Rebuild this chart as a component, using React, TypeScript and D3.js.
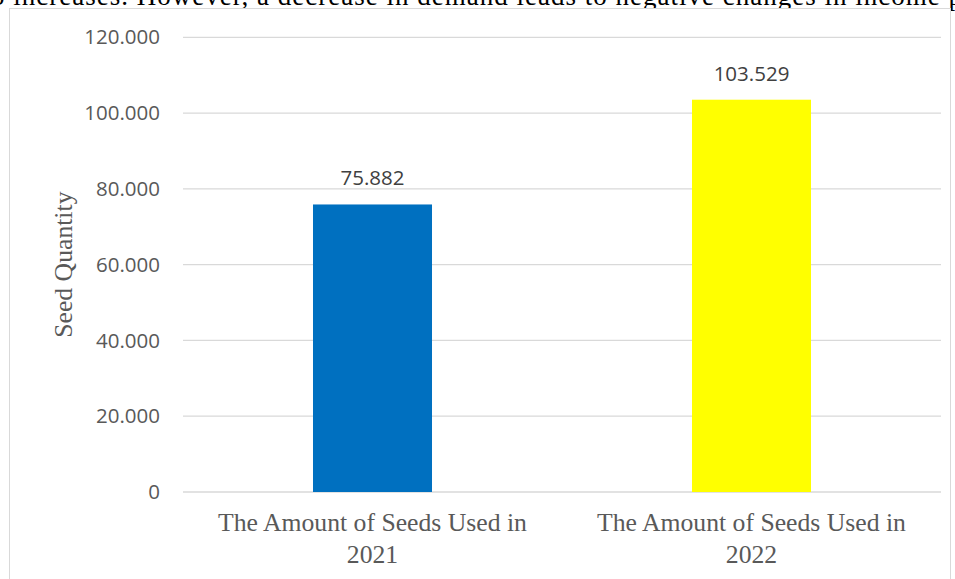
import React from "react";
import * as d3 from "d3";

const categories = ["The Amount of Seeds Used in 2021", "The Amount of Seeds Used in 2022"];
const categoryLines = [
  ["The Amount of Seeds Used in", "2021"],
  ["The Amount of Seeds Used in", "2022"],
];
const values = [75.882, 103.529];
const barColors = ["#0070C0", "#FFFF00"];
const valueLabels = ["75.882", "103.529"];
const yTicks = [0, 20, 40, 60, 80, 100, 120];
const yTickLabels = ["0", "20.000", "40.000", "60.000", "80.000", "100.000", "120.000"];
const yTitle = "Seed Quantity";
const bodyText = "o increases. However, a decrease in demand leads to negative changes in income p";

const W = 955;
const H = 579;
const plot = { left: 183, right: 941, top: 37.3, bottom: 492 };

export default function App() {
  const x = d3.scaleBand<string>().domain(categories).range([plot.left, plot.right]).paddingInner(0.686).paddingOuter(0.343);
  const y = d3.scaleLinear().domain([0, 120]).range([plot.bottom, plot.top]);
  const sans = "'Open Sans', sans-serif";
  const serif = "'Liberation Serif', 'Times New Roman', serif";
  return (
    <svg width={W} height={H} style={{ position: "absolute", left: 0, top: 0, background: "#fff" }}>
      <text x={-9} y={5} fontFamily={serif} fontSize={27} fill="#000" textLength={971} lengthAdjust="spacing">
        {bodyText}
      </text>
      <rect x={9.5} y={8.5} width={941} height={H + 10} fill="#fff" stroke="#d9d9d9" strokeWidth={1} />
      {yTicks.map((t, i) => (
        <g key={t}>
          <line x1={plot.left} x2={plot.right} y1={y(t)} y2={y(t)} stroke="#d9d9d9" strokeWidth={1.3} />
          <text x={160} y={y(t)} dy="0.35em" textAnchor="end" fontFamily={sans} fontSize={20.5} fill="#595959">
            {yTickLabels[i]}
          </text>
        </g>
      ))}
      {categories.map((c, i) => (
        <g key={c}>
          <rect x={x(c)} y={y(values[i])} width={x.bandwidth()} height={y(0) - y(values[i])} fill={barColors[i]} />
          <text x={(x(c) as number) + x.bandwidth() / 2} y={y(values[i]) - 19} textAnchor="middle" fontFamily={sans} fontSize={20.5} fill="#404040">
            {valueLabels[i]}
          </text>
          {categoryLines[i].map((ln, j) => (
            <text key={j} x={(x(c) as number) + x.bandwidth() / 2} y={531 + j * 32} textAnchor="middle" fontFamily={serif} fontSize={25.7} fill="#595959">
              {ln}
            </text>
          ))}
        </g>
      ))}
      <text transform={`translate(72,${(plot.top + plot.bottom) / 2}) rotate(-90)`} textAnchor="middle" fontFamily={serif} fontSize={25.7} fill="#595959">
        {yTitle}
      </text>
    </svg>
  );
}
